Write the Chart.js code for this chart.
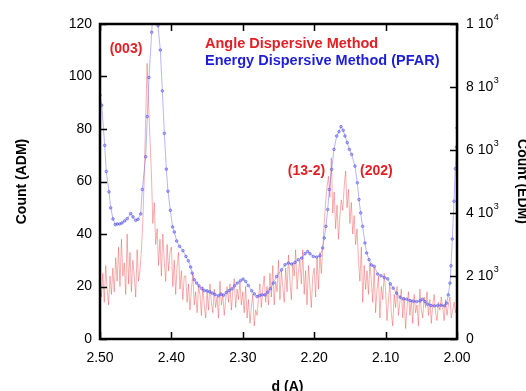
<!DOCTYPE html>
<html>
<head>
<meta charset="utf-8">
<script src="https://cdn.jsdelivr.net/npm/chart.js@4.4.0/dist/chart.umd.min.js"></script>
<style>
  html, body { margin: 0; padding: 0; background: #fff; }
  #chart { display: block; }
</style>
</head>
<body>
<canvas id="chart" width="526" height="391"></canvas>
<script>
const FONT = '"Liberation Sans", Arial, Helvetica, sans-serif'
const RED = 'rgb(228,30,36)'
const BLUE = 'rgb(30,30,215)'

// ADM scan, sampled every 0.002 A starting at 2.500 A
const ADM_START = 2.5
const ADM_STEP = 0.002
const admCounts = [
    22, 16, 25, 14, 28, 19, 13, 24, 17, 27,
    18, 31, 22, 35, 20, 38, 24, 29, 17, 40,
    21, 33, 18, 30, 24, 16, 34, 22, 26, 34,
    45, 62, 84, 105, 90, 76, 63, 44, 52, 36,
    42, 28, 38, 24, 40, 30, 22, 36, 26, 33,
    35, 20, 30, 17, 28, 33, 19, 26, 15, 24,
    24, 14, 21, 11, 19, 25, 13, 18, 10, 20,
    17, 9, 20, 13, 8, 18, 11, 21, 14, 10,
    19, 12, 16, 8, 22, 13, 17, 9, 15, 20,
    14, 21, 11, 18, 23, 12, 19, 15, 22, 13,
    18, 10, 20, 8, 15, 6, 12, 17, 5, 11,
    9, 16, 21, 12, 19, 24, 14, 20, 13, 25,
    16, 28, 13, 22, 18, 30, 15, 26, 20, 14,
    27, 18, 32, 22, 15, 29, 24, 34, 19, 26,
    30, 21, 34, 17, 26, 13, 28, 20, 12, 24,
    27, 16, 31, 19, 33, 25, 35, 44, 52, 58,
    62, 54, 69, 48, 56, 42, 51, 38, 47, 53,
    49, 58, 64, 50, 57, 44, 52, 40, 47, 36,
    42, 30, 22, 35, 14, 28, 19, 26, 17, 29,
    22, 14, 27, 10, 19, 24, 8, 20, 15, 25,
    18, 7, 15, 21, 10, 5, 17, 12, 20, 9,
    14, 19, 8, 16, 4, 12, 18, 9, 15, 6,
    17, 10, 13, 5, 19, 11, 8, 16, 12, 18,
    9, 15, 6, 13, 17, 10, 7, 14, 11, 16,
    12, 7, 15, 9, 13, 16, 8, 11, 14, 10,
    12
]

// EDM (PFAR) points
const edmD = [
    2.5000, 2.4976, 2.4934, 2.4912, 2.4874, 2.4850, 2.4818, 2.4786, 2.4758, 2.4724,
    2.4692, 2.4654, 2.4618, 2.4570, 2.4538, 2.4500, 2.4468, 2.4430, 2.4408, 2.4360,
    2.4338, 2.4314, 2.4276, 2.4237, 2.4188, 2.4155, 2.4127, 2.4099, 2.4071, 2.4048,
    2.4015, 2.3983, 2.3959, 2.3926, 2.3885, 2.3838, 2.3796, 2.3763, 2.3730, 2.3709,
    2.3679, 2.3646, 2.3613, 2.3576, 2.3539, 2.3501, 2.3464, 2.3427, 2.3389, 2.3343,
    2.3305, 2.3268, 2.3231, 2.3190, 2.3151, 2.3115, 2.3078, 2.3035, 2.2997, 2.2959,
    2.2923, 2.2875, 2.2839, 2.2801, 2.2763, 2.2727, 2.2689, 2.2651, 2.2615, 2.2574,
    2.2526, 2.2457, 2.2409, 2.2363, 2.2315, 2.2269, 2.2223, 2.2175, 2.2129, 2.2092,
    2.2059, 2.2013, 2.1966, 2.1919, 2.1881, 2.1859, 2.1835, 2.1811, 2.1789, 2.1755,
    2.1723, 2.1685, 2.1653, 2.1625, 2.1594, 2.1569, 2.1537, 2.1508, 2.1475, 2.1429,
    2.1396, 2.1373, 2.1349, 2.1322, 2.1289, 2.1265, 2.1232, 2.1196, 2.1158, 2.1111,
    2.1064, 2.1018, 2.0971, 2.0934, 2.0894, 2.0846, 2.0798, 2.0752, 2.0705, 2.0658,
    2.0613, 2.0566, 2.0518, 2.0486, 2.0448, 2.0410, 2.0364, 2.0318, 2.0272, 2.0224,
    2.0178, 2.0146, 2.0122, 2.0098, 2.0084, 2.0066, 2.0042, 2.0024, 2.0008, 2.0000
]
const edmCounts = [
    7740, 7421, 6147, 5319, 4672, 4163, 3812, 3631, 3653, 3653,
    3685, 3749, 3822, 3981, 3876, 3768, 3800, 3972, 4746, 5787,
    7061, 8303, 9737, 11200, 9947, 9173, 7877, 6529, 5392, 4692,
    4086, 3558, 3398, 3112, 2940, 2803, 2621, 2484, 2284, 2093,
    1879, 1774, 1688, 1602, 1538, 1529, 1497, 1456, 1411, 1370,
    1424, 1392, 1475, 1538, 1593, 1688, 1774, 1847, 1901, 1825,
    1698, 1529, 1433, 1347, 1379, 1401, 1401, 1487, 1593, 1774,
    1984, 2198, 2357, 2411, 2379, 2430, 2516, 2570, 2707, 2780,
    2707, 2621, 2602, 2644, 2889, 3207, 3577, 4109, 4746, 5383,
    6020, 6443, 6583, 6743, 6625, 6443, 6233, 6020, 5860, 5488,
    4959, 4427, 4004, 3577, 3048, 2730, 2516, 2347, 2303, 2061,
    2007, 1952, 1911, 1752, 1615, 1456, 1328, 1274, 1264, 1220,
    1201, 1188, 1210, 1264, 1188, 1105, 1061, 1051, 1061, 1073,
    1051, 1137, 1401, 1774, 2325, 3175, 4373, 5405, 6093, 6700
]

// right axis labels: mantissa + power of ten
const edmTickMantissa = ['0', '2 10', '4 10', '6 10', '8 10', '1 10']
const edmTickExponent = ['', '3', '3', '3', '3', '4']

// peak labels: text, d, ADM count
const peakNames = ['(003)', '(13-2)', '(202)']
const peakD = [2.4636, 2.2108, 2.1129]
const peakY = [110.4, 63.9, 63.9]

const admPoints = admCounts.map((c, i) => ({ x: ADM_START - i * ADM_STEP, y: c }))
const edmPoints = edmD.map((d, i) => ({ x: d, y: edmCounts[i] }))

const framePlugin = {
    id: 'frame',
    afterDraw(chart) {
        const { ctx, chartArea: a, scales } = chart
        const { x, y, y2 } = scales
        ctx.save()

        // inward ticks
        ctx.strokeStyle = '#000'
        ctx.lineWidth = 1.5
        ctx.beginPath()
        x.ticks.forEach(t => {
            const px = Math.round(x.getPixelForValue(t.value)) + 0.5
            ctx.moveTo(px, a.bottom); ctx.lineTo(px, a.bottom - 7)
            ctx.moveTo(px, a.top); ctx.lineTo(px, a.top + 7)
        })
        y.ticks.forEach(t => {
            const py = Math.round(y.getPixelForValue(t.value)) + 0.5
            ctx.moveTo(a.left, py); ctx.lineTo(a.left + 7, py)
        })
        y2.ticks.forEach(t => {
            const py = Math.round(y2.getPixelForValue(t.value)) + 0.5
            ctx.moveTo(a.right, py); ctx.lineTo(a.right - 7, py)
        })
        ctx.stroke()

        ctx.lineWidth = 2.5
        ctx.strokeRect(a.left, a.top, a.right - a.left, a.bottom - a.top)

        // right tick labels with superscripts
        ctx.fillStyle = '#000'
        ctx.textAlign = 'left'
        ctx.textBaseline = 'middle'
        y2.ticks.forEach(t => {
            const i = Math.round(t.value / 2000)
            const py = y2.getPixelForValue(t.value)
            ctx.font = `14px ${FONT}`
            const m = edmTickMantissa[i]
            ctx.fillText(m, a.right + 9, py)
            const w = ctx.measureText(m).width
            if (edmTickExponent[i]) {
                ctx.font = `9px ${FONT}`
                ctx.fillText(edmTickExponent[i], a.right + 9 + w + 0.5, py - 6)
            }
        })

        // legend
        ctx.font = `bold 14.5px ${FONT}`
        ctx.fillStyle = RED
        ctx.fillText('Angle Dispersive Method', 205, 44)
        ctx.fillStyle = BLUE
        ctx.fillText('Energy Dispersive Method (PFAR)', 205, 61)

        // peak labels
        ctx.font = `bold 14px ${FONT}`
        ctx.fillStyle = RED
        ctx.textAlign = 'center'
        peakNames.forEach((n, i) => {
            ctx.fillText(n, x.getPixelForValue(peakD[i]), y.getPixelForValue(peakY[i]))
        })

        // axis titles
        ctx.fillStyle = '#000'
        ctx.textBaseline = 'alphabetic'
        const cy = (a.top + a.bottom) / 2
        ctx.save()
        ctx.translate(26, cy)
        ctx.rotate(-Math.PI / 2)
        ctx.fillText('Count (ADM)', 0, 0)
        ctx.restore()
        ctx.save()
        ctx.translate(518, cy)
        ctx.rotate(Math.PI / 2)
        ctx.fillText('Count (EDM)', 0, 0)
        ctx.restore()
        ctx.fillText('d (A)', 287.5, 391)

        ctx.restore()
    }
}

const tickFont = { family: FONT, size: 14 }

new Chart(document.getElementById('chart').getContext('2d'), {
    type: 'line',
    data: {
        datasets: [
            {
                label: 'Energy Dispersive Method (PFAR)',
                data: edmPoints,
                yAxisID: 'y2',
                order: 0,
                borderColor: 'rgba(110,110,255,0.5)',
                borderWidth: 1,
                pointRadius: 1.3,
                pointBorderWidth: 0.8,
                pointBorderColor: 'rgba(60,60,225,0.65)',
                pointBackgroundColor: 'rgba(150,150,255,0.55)',
                tension: 0,
                clip: 0
            },
            {
                label: 'Angle Dispersive Method',
                data: admPoints,
                yAxisID: 'y',
                order: 1,
                borderColor: 'rgba(232,45,45,0.5)',
                borderWidth: 0.75,
                pointRadius: 0,
                tension: 0,
                clip: 0
            }
        ]
    },
    options: {
        responsive: false,
        animation: false,
        devicePixelRatio: 1,
        layout: { padding: { top: 24, left: 0, right: 0, bottom: 0 } },
        plugins: {
            legend: { display: false },
            tooltip: { enabled: false }
        },
        scales: {
            x: {
                type: 'linear',
                reverse: true,
                min: 2.0,
                max: 2.5,
                grid: { display: false, drawTicks: false },
                border: { display: false },
                ticks: {
                    stepSize: 0.1,
                    padding: 11,
                    color: '#000',
                    font: tickFont,
                    maxRotation: 0,
                    callback: v => v.toFixed(2)
                },
                afterFit: s => { s.height = 52 }
            },
            y: {
                position: 'left',
                min: 0,
                max: 120,
                grid: { display: false, drawTicks: false },
                border: { display: false },
                ticks: { stepSize: 20, padding: 8, color: '#000', font: tickFont },
                afterFit: s => { s.width = 100 }
            },
            y2: {
                position: 'right',
                min: 0,
                max: 10000,
                grid: { display: false, drawTicks: false },
                border: { display: false },
                ticks: { stepSize: 2000, display: false },
                afterFit: s => { s.width = 69 }
            }
        }
    },
    plugins: [framePlugin]
})
</script>
</body>
</html>
